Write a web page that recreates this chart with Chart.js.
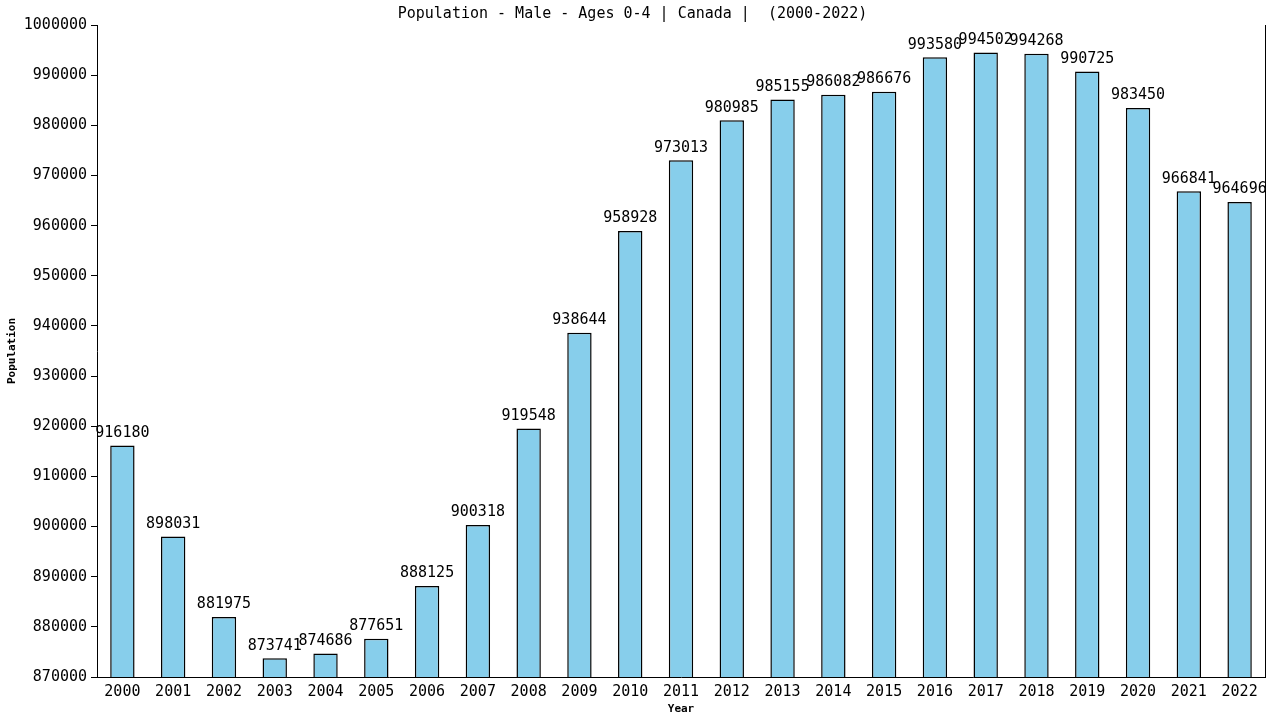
<!DOCTYPE html>
<html>
<head>
<meta charset="utf-8">
<script src="https://cdn.jsdelivr.net/npm/chart.js@4/dist/chart.umd.min.js"></script>
<style>
  html, body { margin: 0; padding: 0; background: #fff; }
  #wrap { width: 1280px; height: 720px; }
</style>
</head>
<body>
<div id="wrap"><canvas id="mycanvas" width="1280" height="720"></canvas></div>
<script>
var years = ["2000","2001","2002","2003","2004","2005","2006","2007","2008","2009","2010","2011",
             "2012","2013","2014","2015","2016","2017","2018","2019","2020","2021","2022"];
var population = [916180, 898031, 881975, 873741, 874686, 877651, 888125, 900318, 919548, 938644,
                  958928, 973013, 980985, 985155, 986082, 986676, 993580, 994502, 994268, 990725,
                  983450, 966841, 964696];
var yMin = 870000;
var yMax = 1000000;
var yStep = 10000;

var monoFont = "'DejaVu Sans Mono', 'Liberation Mono', monospace";

// value above each bar + right frame line
var barValues = {
  id: 'barValues',
  afterDatasetsDraw: function(chart) {
    var ctx = chart.ctx;
    var meta = chart.getDatasetMeta(0);
    var area = chart.chartArea;
    ctx.save();
    ctx.strokeStyle = "#000";
    ctx.lineWidth = 1;
    ctx.beginPath();
    ctx.moveTo(Math.round(area.right) + 0.5, area.top);
    ctx.lineTo(Math.round(area.right) + 0.5, area.bottom);
    ctx.stroke();
    ctx.font = "15px " + monoFont;
    ctx.fillStyle = "#000";
    ctx.textAlign = "center";
    ctx.textBaseline = "bottom";
    meta.data.forEach(function(bar, i) {
      ctx.fillText(String(population[i]), bar.x, bar.y - 5);
    });
    ctx.restore();
  }
};

var chartdata = {
  labels: years,
  datasets: [{
    label: 'Population',
    backgroundColor: '#87CEEB',
    borderColor: '#000',
    borderWidth: 1.5,
    borderSkipped: 'bottom',
    barPercentage: 0.48,
    categoryPercentage: 1,
    data: population
  }]
};

var ctx = document.getElementById("mycanvas");
var barGraph = new Chart(ctx, {
  type: 'bar',
  data: chartdata,
  plugins: [barValues],
  options: {
    responsive: false,
    animation: false,
    layout: { padding: { left: 0, right: 15, top: 0, bottom: 0 } },
    plugins: {
      legend: { display: false },
      tooltip: { enabled: false },
      title: {
        display: true,
        text: "Population - Male - Ages 0-4 | Canada |  (2000-2022)",
        color: "#000",
        font: { family: monoFont, size: 15, weight: 'normal' },
        padding: { top: 5, bottom: 2 }
      }
    },
    scales: {
      x: {
        grid: { display: false },
        border: { display: true, color: '#000', width: 1 },
        ticks: { color: '#000', font: { family: monoFont, size: 15 }, padding: -2, maxRotation: 0 },
        title: { display: true, text: 'Year', color: '#000',
                 font: { family: monoFont, size: 11, weight: 'bold' }, padding: { top: 0, bottom: 4 } },
        afterFit: function(s) { s.height = 43; }
      },
      y: {
        min: yMin,
        max: yMax,
        ticks: { stepSize: yStep, color: '#000', font: { family: monoFont, size: 15 }, padding: 4,
                 callback: function(v) { return String(v); } },
        grid: { display: true, drawOnChartArea: false, drawTicks: true, tickLength: 6, color: '#000' },
        border: { display: true, color: '#000', width: 1 },
        title: { display: true, text: 'Population', color: '#000',
                 font: { family: monoFont, size: 11, weight: 'bold' }, padding: { top: 6, bottom: 0 } },
        afterFit: function(s) { s.width = 97; }
      }
    }
  }
});
</script>
</body>
</html>
